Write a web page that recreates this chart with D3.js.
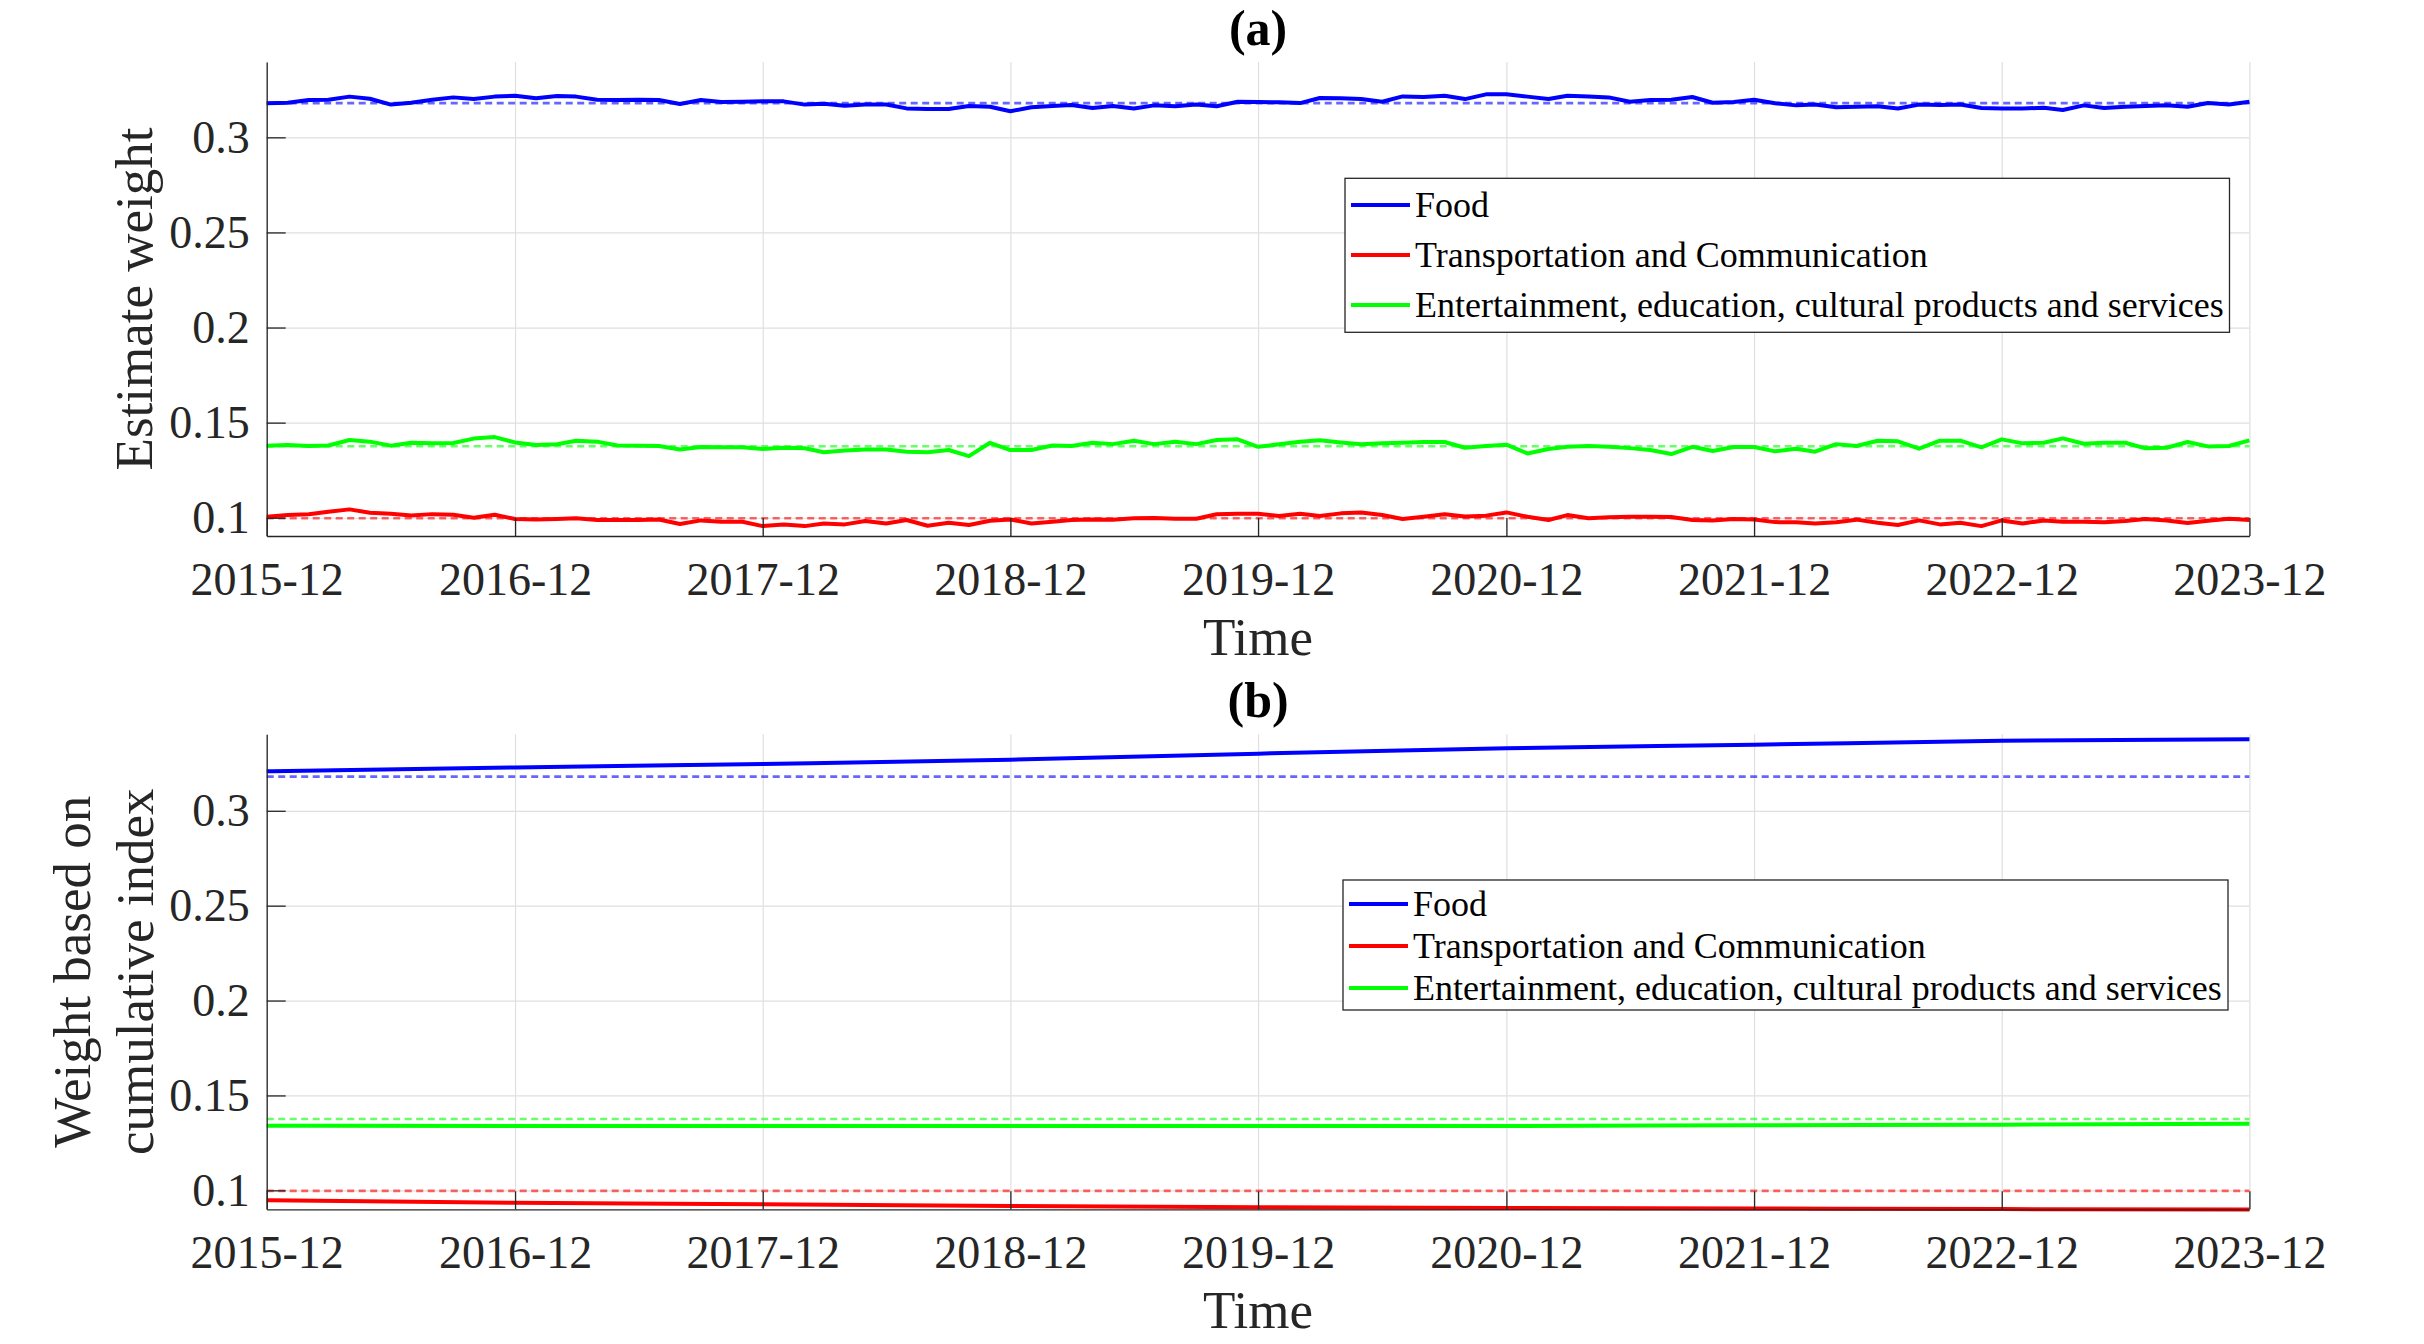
<!DOCTYPE html>
<html>
<head>
<meta charset="utf-8">
<script src="https://cdn.jsdelivr.net/npm/d3@7/dist/d3.min.js"></script>
<style>
  body { margin: 0; background: #fff; }
  text { font-family: "Liberation Serif", "Times New Roman", serif; }
</style>
</head>
<body>
<svg id="chart" width="2424" height="1344"></svg>
<script>
// ---- data ----
var xTickLabels = ["2015-12", "2016-12", "2017-12", "2018-12", "2019-12", "2020-12", "2021-12", "2022-12", "2023-12"];
var yTickValues = [0.1, 0.15, 0.2, 0.25, 0.3];
var yTickLabels = ["0.1", "0.15", "0.2", "0.25", "0.3"];

var seriesNames = ["Food", "Transportation and Communication", "Entertainment, education, cultural products and services"];
var seriesColors = ["#0000ff", "#ff0000", "#00ff00"];
var baseWeights = [0.318, 0.0997, 0.1376];

// (a) monthly estimated weights, 2015-12 .. 2023-12
var estFood = [
  0.3179, 0.3182, 0.3196, 0.3198, 0.3214, 0.3203, 0.3172, 0.3182, 0.3198, 0.3210,
  0.3201, 0.3214, 0.3219, 0.3205, 0.3217, 0.3214, 0.3198, 0.3196, 0.3198, 0.3196,
  0.3175, 0.3196, 0.3186, 0.3187, 0.3189, 0.3189, 0.3172, 0.3177, 0.3166, 0.3172,
  0.3173, 0.3152, 0.3149, 0.3149, 0.3165, 0.3161, 0.3137, 0.3158, 0.3165, 0.3170,
  0.3154, 0.3165, 0.3152, 0.3168, 0.3163, 0.3173, 0.3163, 0.3187, 0.3186, 0.3184,
  0.3180, 0.3207, 0.3205, 0.3201, 0.3187, 0.3215, 0.3212, 0.3219, 0.3201, 0.3226,
  0.3226, 0.3214, 0.3201, 0.3219, 0.3215, 0.3210, 0.3187, 0.3196, 0.3198, 0.3212,
  0.3182, 0.3186, 0.3198, 0.3179, 0.3168, 0.3173, 0.3158, 0.3161, 0.3163, 0.3152,
  0.3172, 0.3170, 0.3173, 0.3154, 0.3152, 0.3151, 0.3156, 0.3144, 0.3168, 0.3154,
  0.3161, 0.3165, 0.3168, 0.3161, 0.3180, 0.3173, 0.3187
];
var estTransport = [
  0.1005, 0.1014, 0.1018, 0.1032, 0.1044, 0.1026, 0.1021, 0.1012, 0.1019, 0.1016,
  0.1000, 0.1016, 0.0993, 0.0991, 0.0993, 0.0997, 0.0988, 0.0988, 0.0988, 0.0991,
  0.0967, 0.0986, 0.0979, 0.0979, 0.0956, 0.0965, 0.0956, 0.0970, 0.0965, 0.0983,
  0.0970, 0.0988, 0.0958, 0.0974, 0.0962, 0.0984, 0.0991, 0.0970, 0.0979, 0.0988,
  0.0991, 0.0990, 0.0997, 0.0998, 0.0995, 0.0995, 0.1018, 0.1021, 0.1021, 0.1009,
  0.1021, 0.1009, 0.1023, 0.1028, 0.1014, 0.0993, 0.1005, 0.1018, 0.1007, 0.1011,
  0.1028, 0.1005, 0.0988, 0.1014, 0.0997, 0.1002, 0.1005, 0.1005, 0.1004, 0.0988,
  0.0986, 0.0993, 0.0991, 0.0977, 0.0976, 0.0970, 0.0976, 0.0990, 0.0974, 0.0962,
  0.0986, 0.0965, 0.0974, 0.0956, 0.0986, 0.0970, 0.0986, 0.0979, 0.0979, 0.0976,
  0.0983, 0.0993, 0.0986, 0.0972, 0.0984, 0.0995, 0.0988
];
var estEntertainment = [
  0.1379, 0.1382, 0.1377, 0.1380, 0.1409, 0.1400, 0.1379, 0.1394, 0.1391, 0.1393,
  0.1416, 0.1424, 0.1396, 0.1382, 0.1386, 0.1405, 0.1400, 0.1380, 0.1379, 0.1377,
  0.1359, 0.1372, 0.1370, 0.1370, 0.1361, 0.1368, 0.1365, 0.1344, 0.1354, 0.1359,
  0.1359, 0.1347, 0.1344, 0.1356, 0.1324, 0.1394, 0.1356, 0.1356, 0.1380, 0.1377,
  0.1394, 0.1387, 0.1405, 0.1387, 0.1400, 0.1387, 0.1409, 0.1412, 0.1373, 0.1386,
  0.1400, 0.1407, 0.1396, 0.1386, 0.1391, 0.1394, 0.1398, 0.1398, 0.1368, 0.1377,
  0.1384, 0.1338, 0.1361, 0.1373, 0.1377, 0.1373, 0.1366, 0.1356, 0.1335, 0.1373,
  0.1351, 0.1372, 0.1372, 0.1349, 0.1363, 0.1347, 0.1387, 0.1377, 0.1405, 0.1402,
  0.1363, 0.1405, 0.1405, 0.1370, 0.1412, 0.1391, 0.1394, 0.1417, 0.1389, 0.1394,
  0.1394, 0.1365, 0.1368, 0.1398, 0.1375, 0.1377, 0.1407
];

// (b) weights based on cumulative index, read at each December
var cumFood = [0.3208, 0.3228, 0.3247, 0.3269, 0.3301, 0.3329, 0.3348, 0.3369, 0.3377];
var cumTransport = [0.0948, 0.0934, 0.0926, 0.0917, 0.0911, 0.0907, 0.0904, 0.0901, 0.0899];
var cumEntertainment = [0.1340, 0.1339, 0.1339, 0.1339, 0.1339, 0.1339, 0.1343, 0.1346, 0.1351];

// ---- layout ----
var parseMonth = d3.timeParse("%Y-%m");
var months = d3.timeMonth.range(parseMonth("2015-12"), d3.timeMonth.offset(parseMonth("2023-12"), 1));
var yearEnds = xTickLabels.map(parseMonth);

var left = 266.7, right = 2249.4;
var font = '"Liberation Serif", "Times New Roman", serif';
var axisColor = "#262626";

var x = d3.scaleTime()
    .domain([yearEnds[0], yearEnds[yearEnds.length - 1]])
    .range([left, right]);

var svg = d3.select("#chart");

function drawPanel(cfg) {
    var y = d3.scaleLinear().domain(cfg.domain).range([cfg.bottom, cfg.top]);
    var g = svg.append("g").attr("class", "panel");

    // grid
    g.append("g")
        .attr("transform", "translate(0," + cfg.bottom + ")")
        .call(d3.axisBottom(x).tickValues(yearEnds).tickSize(-(cfg.bottom - cfg.top)).tickFormat(""))
        .call(function (s) {
            s.select(".domain").remove();
            s.selectAll("line").attr("stroke", "#dfdfdf").attr("stroke-width", 1.2);
        });
    g.append("g")
        .attr("transform", "translate(" + left + ",0)")
        .call(d3.axisLeft(y).tickValues(yTickValues).tickSize(-(right - left)).tickFormat(""))
        .call(function (s) {
            s.select(".domain").remove();
            s.selectAll("line").attr("stroke", "#dfdfdf").attr("stroke-width", 1.2);
        });

    var line = d3.line()
        .x(function (d) { return x(d.date); })
        .y(function (d) { return y(d.value); })
        .curve(cfg.curve || d3.curveLinear);

    // dashed base weights
    baseWeights.forEach(function (w, i) {
        g.append("line")
            .attr("x1", x(yearEnds[0]))
            .attr("x2", x(yearEnds[yearEnds.length - 1]))
            .attr("y1", y(w))
            .attr("y2", y(w))
            .attr("stroke", seriesColors[i])
            .attr("stroke-opacity", 0.6)
            .attr("stroke-width", 2.6)
            .attr("stroke-dasharray", "7,4.5");
    });

    // solid series
    cfg.series.forEach(function (vals, i) {
        var pts = vals.map(function (v, k) { return { date: cfg.dates[k], value: v }; });
        g.append("path")
            .datum(pts)
            .attr("d", line)
            .attr("fill", "none")
            .attr("stroke", seriesColors[i])
            .attr("stroke-width", 4)
            .attr("stroke-linejoin", "round");
    });

    // axes (box off, ticks inward)
    g.append("g")
        .attr("transform", "translate(0," + cfg.bottom + ")")
        .call(d3.axisBottom(x).tickValues(yearEnds)
            .tickFormat(function (d, i) { return xTickLabels[i]; })
            .tickSizeInner(-18).tickSizeOuter(0).tickPadding(26))
        .call(styleAxis);
    g.append("g")
        .attr("transform", "translate(" + left + ",0)")
        .call(d3.axisLeft(y).tickValues(yTickValues)
            .tickFormat(function (d, i) { return yTickLabels[i]; })
            .tickSizeInner(-19).tickSizeOuter(0).tickPadding(17))
        .call(styleAxis);

    // title
    g.append("text")
        .attr("x", (left + right) / 2)
        .attr("y", cfg.top - 17)
        .attr("text-anchor", "middle")
        .attr("font-size", 50)
        .attr("font-weight", "bold")
        .attr("fill", "#000")
        .text(cfg.title);

    // x label
    g.append("text")
        .attr("x", (left + right) / 2)
        .attr("y", cfg.bottom + 119)
        .attr("text-anchor", "middle")
        .attr("font-size", 53)
        .attr("fill", axisColor)
        .text("Time");

    // y label
    var cy = (cfg.top + cfg.bottom) / 2;
    cfg.ylabel.forEach(function (txt, i) {
        g.append("text")
            .attr("transform", "translate(" + cfg.ylabelX[i] + "," + cy + ") rotate(-90)")
            .attr("text-anchor", "middle")
            .attr("font-size", 53)
            .attr("fill", axisColor)
            .text(txt);
    });

    // legend
    var lg = cfg.legend;
    g.append("rect")
        .attr("x", lg.x).attr("y", lg.y)
        .attr("width", lg.w).attr("height", lg.h)
        .attr("fill", "#fff")
        .attr("stroke", axisColor)
        .attr("stroke-width", 1.3);
    seriesNames.forEach(function (name, i) {
        var ry = lg.y + lg.first + i * lg.gap;
        g.append("line")
            .attr("x1", lg.x + 6).attr("x2", lg.x + 65)
            .attr("y1", ry).attr("y2", ry)
            .attr("stroke", seriesColors[i])
            .attr("stroke-width", 4);
        g.append("text")
            .attr("x", lg.x + 70)
            .attr("y", ry + 12)
            .attr("font-size", 36)
            .attr("fill", "#000")
            .text(name);
    });
}

function styleAxis(s) {
    s.select(".domain").attr("stroke", axisColor).attr("stroke-width", 1.3);
    s.selectAll(".tick line").attr("stroke", axisColor).attr("stroke-width", 1.3);
    s.selectAll(".tick text")
        .attr("fill", axisColor)
        .attr("font-size", 46)
        .attr("font-family", font);
}

drawPanel({
    top: 62, bottom: 536,
    domain: [0.0904, 0.3396],
    title: "(a)",
    ylabel: ["Estimate weight"],
    ylabelX: [152],
    dates: months,
    series: [estFood, estTransport, estEntertainment],
    legend: { x: 1345, y: 178.3, w: 884.5, h: 154, first: 26.7, gap: 50 }
});

drawPanel({
    top: 734.3, bottom: 1209.3,
    domain: [0.0900, 0.3403],
    title: "(b)",
    ylabel: ["Weight based on", "cumulative index"],
    ylabelX: [90, 153],
    dates: yearEnds,
    curve: d3.curveMonotoneX,
    series: [cumFood, cumTransport, cumEntertainment],
    legend: { x: 1343, y: 880, w: 885, h: 130, first: 24, gap: 42 }
});
</script>
</body>
</html>
